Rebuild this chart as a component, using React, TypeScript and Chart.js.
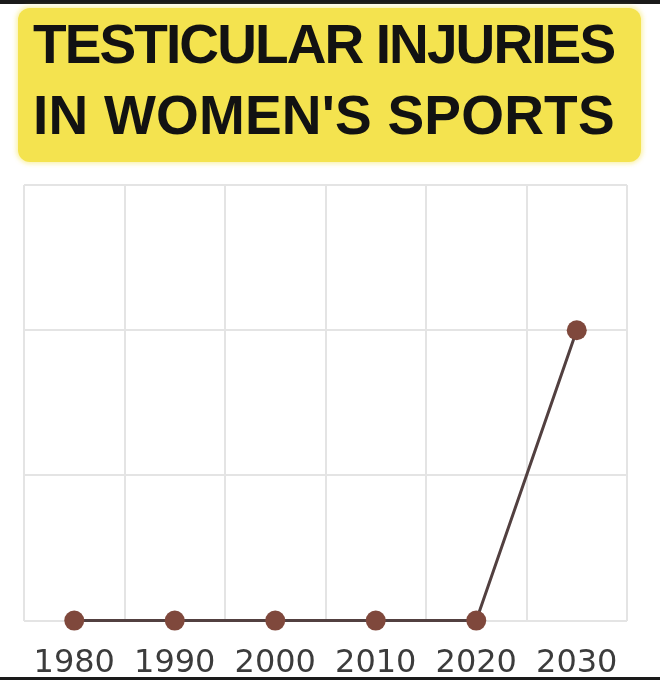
import React, { useEffect, useRef } from "react";
import { Chart, registerables } from "chart.js";

Chart.register(...registerables);

const titleLines = ["TESTICULAR INJURIES", "IN WOMEN'S SPORTS"];
const years = ["1980", "1990", "2000", "2010", "2020", "2030"];
const injuries = [0, 0, 0, 0, 0, 2];
const yTicks = [0, 1, 2, 3];

export default function App() {
  const ref = useRef<HTMLCanvasElement | null>(null);

  useEffect(() => {
    if (!ref.current) return;
    const chart = new Chart(ref.current, {
      type: "line",
      data: {
        labels: years,
        datasets: [
          {
            data: injuries,
            borderColor: "#524040",
            borderWidth: 3,
            pointRadius: 10,
            pointBackgroundColor: "#7f483c",
            pointBorderColor: "#7f483c",
            pointBorderWidth: 0,
            tension: 0,
            clip: false as any,
          },
        ],
      },
      options: {
        animation: false,
        responsive: false,
        maintainAspectRatio: false,
        layout: { padding: { left: 24, right: 33, top: 15, bottom: 0 } },
        plugins: { legend: { display: false }, tooltip: { enabled: false }, title: { display: false } },
        scales: {
          x: {
            offset: true,
            grid: { offset: true, color: "#e4e4e4", lineWidth: 2, drawTicks: false },
            border: { display: false },
            ticks: {
              padding: 24,
              color: "#3c3c3c",
              font: { family: "DejaVu Sans", size: 32 },
              maxRotation: 0,
              autoSkip: false,
            },
          },
          y: {
            min: yTicks[0],
            max: yTicks[yTicks.length - 1],
            afterBuildTicks: (axis: any) => {
              axis.ticks = yTicks.map((v) => ({ value: v }));
            },
            grid: { color: "#e4e4e4", lineWidth: 2, drawTicks: false },
            border: { display: false },
            ticks: { display: false },
          },
        },
      },
    });
    return () => chart.destroy();
  }, []);

  const lineStyles: React.CSSProperties[] = [
    { letterSpacing: "-1.9px" },
    { letterSpacing: "0.2px" },
  ];

  return (
    <div
      style={{
        position: "fixed",
        left: 0,
        top: 0,
        width: 660,
        height: 680,
        background: "#ffffff",
        overflow: "hidden",
      }}
    >
      <canvas
        ref={ref}
        width={660}
        height={537}
        style={{ position: "absolute", left: 0, top: 170, width: 660, height: 537 }}
      />
      <div style={{ position: "absolute", left: 0, top: 0, width: 660, height: 4, background: "#1a1a1a" }} />
      <div
        style={{
          position: "absolute",
          left: 18,
          top: 8,
          width: 623,
          height: 154,
          background: "#f4e34f",
          borderRadius: 12,
          boxShadow: "0 0 4px 2px rgba(244,227,79,0.45)",
        }}
      />
      <div
        style={{
          position: "absolute",
          left: 33,
          top: 9,
          width: 620,
          fontFamily: "'Liberation Sans', Arial, sans-serif",
          fontWeight: 700,
          fontSize: 55,
          lineHeight: "71px",
          color: "#121212",
          whiteSpace: "nowrap",
        }}
      >
        {titleLines.map((t, i) => (
          <div key={i} style={lineStyles[i]}>
            {t}
          </div>
        ))}
      </div>
      <div style={{ position: "absolute", left: 0, top: 677, width: 660, height: 3, background: "#1a1a1a" }} />
    </div>
  );
}
